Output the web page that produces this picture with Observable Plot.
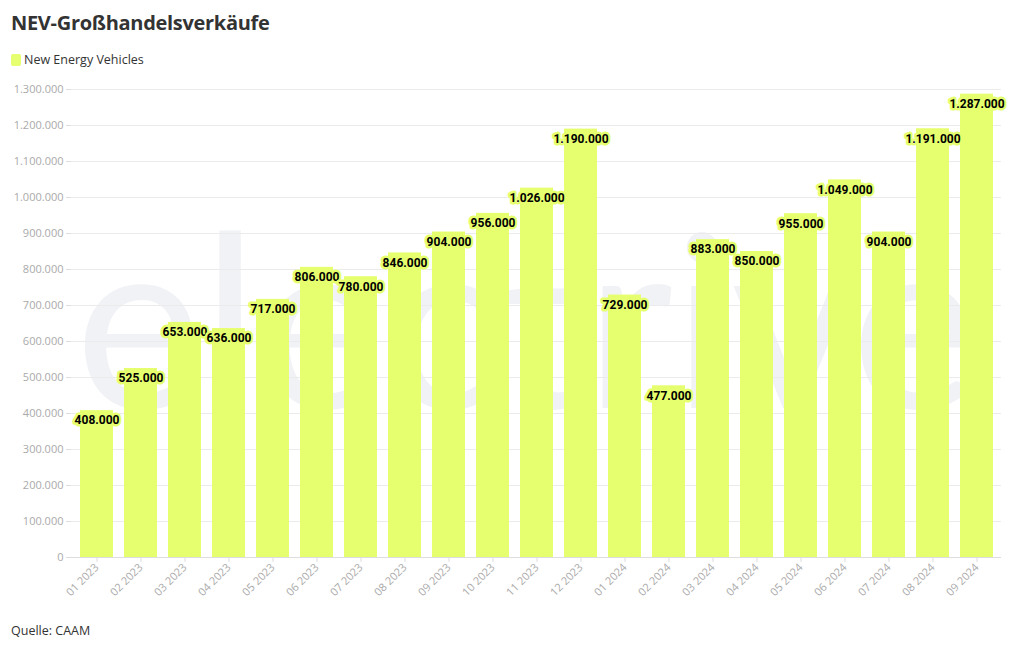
<!DOCTYPE html>
<html><head><meta charset="utf-8">
<script src="https://cdn.jsdelivr.net/npm/d3@7"></script>
<script src="https://cdn.jsdelivr.net/npm/@observablehq/plot@0.6"></script>
<style>
body{margin:0;background:#fff;font-family:"Open Sans","Noto Sans",sans-serif;width:1020px;height:650px;position:relative;overflow:hidden}
#title{position:absolute;left:11px;top:9px;font-family:"Open Sans",sans-serif;font-weight:700;font-size:20px;color:#333;letter-spacing:-0.3px}
#legend{position:absolute;left:11px;top:51px;font-size:12.5px;color:#333;display:flex;align-items:center}
#legend span.sw{display:inline-block;width:10px;height:12px;border-radius:2px;background:#e6ff6e;margin-right:3px}
#chart{position:absolute;left:0;top:75px}
#caption{position:absolute;left:11px;top:622px;font-size:12.5px;color:#333}
</style></head>
<body>
<div id="title">NEV-Großhandelsverkäufe</div>
<div id="legend"><span class="sw"></span>New Energy Vehicles</div>
<div id="chart"></div>
<div id="caption">Quelle: CAAM</div>
<script>
const months = ["01 2023","02 2023","03 2023","04 2023","05 2023","06 2023","07 2023","08 2023","09 2023","10 2023","11 2023","12 2023","01 2024","02 2024","03 2024","04 2024","05 2024","06 2024","07 2024","08 2024","09 2024"];
const sales = [408000,525000,653000,636000,717000,806000,780000,846000,904000,956000,1026000,1190000,729000,477000,883000,850000,955000,1049000,904000,1191000,1287000];
const yTicks = [0,100000,200000,300000,400000,500000,600000,700000,800000,900000,1000000,1100000,1200000,1300000];
const seriesName = "New Energy Vehicles";
const watermark = ["electrive"];

const data = months.map((m,i)=>({month:m, value:sales[i], series:seriesName}));
const de = d3.formatLocale({decimal:",",thousands:".",grouping:[3],currency:["","€"]});
const fmt = de.format(",d");
const barColor = "#e6ff6e";

const chart = Plot.plot({
  width: 1020,
  height: 545,
  marginLeft: 71,
  marginRight: 19,
  marginTop: 14,
  marginBottom: 63,
  style: {fontFamily: "'Open Sans', sans-serif", fontSize: "11px", color: "#aaa", background: "transparent"},
  x: {domain: months, paddingInner: 0.26, paddingOuter: 0.13, label: null},
  y: {domain: [0, 1300000], label: null},
  marks: [
    Plot.text(watermark, {frameAnchor: "middle", dx: -10, dy: 8, text: d=>d, fontSize: 240, fontWeight: 400, fill: "#f1f2f5", fontFamily: "Lato, sans-serif"}),
    Plot.gridY(yTicks, {stroke: "#ebebeb", strokeOpacity: 1}),
    Plot.ruleX([0], {stroke: "#e6e6e6", frameAnchor: "left"}),
    Plot.axisY({ticks: yTicks, tickFormat: fmt, tickSize: 5, tickPadding: 3, stroke: "#ddd", fill: "#aaa", fontSize: 11}),
    Plot.axisX({tickRotate: -45, tickSize: 5, tickPadding: 3, stroke: "#ddd", fill: "#aaa", fontSize: 11}),
    Plot.barY(data, {x: "month", y: "value", fill: barColor}),
    Plot.ruleY([0], {stroke: "#ddd"}),
    Plot.text(data, {x: "month", y: "value", text: d=>fmt(d.value), dy: 10, fill: "#000", stroke: barColor, strokeWidth: 5, strokeLinejoin: "round", fontWeight: 700, fontSize: 12, fontFamily: "Roboto, sans-serif"})
  ]
});
document.getElementById("chart").appendChild(chart);
</script>
</body></html>
